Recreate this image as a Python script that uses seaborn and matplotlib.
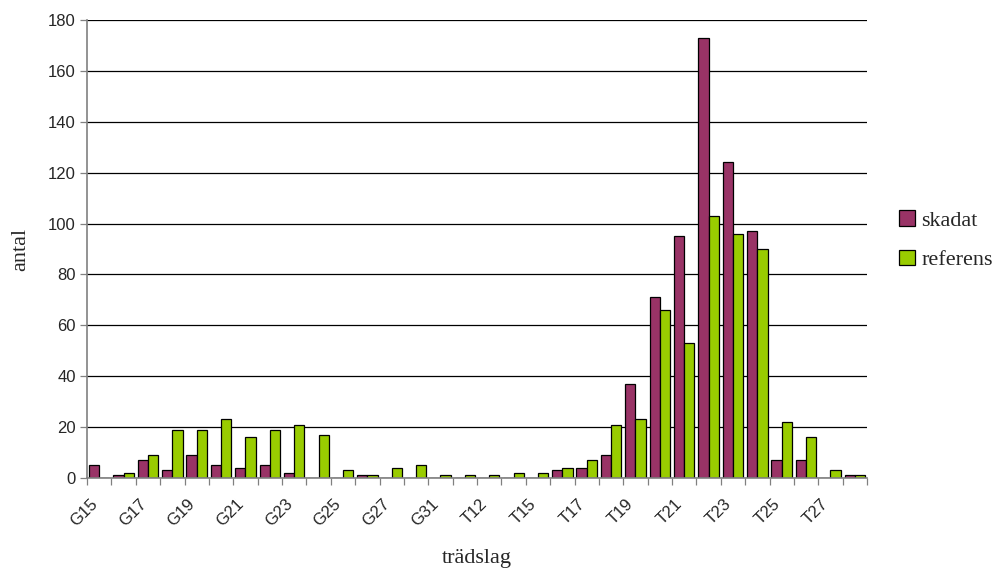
import matplotlib
matplotlib.use("Agg")
import matplotlib.pyplot as plt
from matplotlib.patches import Patch
import seaborn as sns
import pandas as pd
import numpy as np

# Tree species codes along the x axis
tradslag = ["G15", "G16", "G17", "G18", "G19", "G20", "G21", "G22", "G23", "G24",
            "G25", "G26", "G27", "G29", "G31", "T11", "T12", "T13", "T15", "T16",
            "T17", "T18", "T19", "T20", "T21", "T22", "T23", "T24", "T25", "T26",
            "T27", "T28"]

# Counts per species
skadat = [5, 1, 7, 3, 9, 5, 4, 5, 2, 0,
          0, 1, 0, 0, 0, 0, 0, 0, 0, 3,
          4, 9, 37, 71, 95, 173, 124, 97, 7, 7,
          0, 1]
referens = [0, 2, 9, 19, 19, 23, 16, 19, 21, 17,
            3, 1, 4, 5, 1, 1, 1, 2, 2, 4,
            7, 21, 23, 66, 53, 103, 96, 90, 22, 16,
            3, 1]

series_names = ["skadat", "referens"]
colors = {"skadat": "#993366", "referens": "#99CC00"}

df = pd.DataFrame({
    "trädslag": tradslag * 2,
    "antal": skadat + referens,
    "serie": ["skadat"] * len(tradslag) + ["referens"] * len(tradslag),
})

sns.set_style("white")
plt.rcParams["font.family"] = ["Liberation Sans", "DejaVu Sans"]

fig = plt.figure(figsize=(9.94, 5.69), dpi=100)
ax = fig.add_axes([87 / 994, 1 - 478 / 569, (867 - 87) / 994, (478 - 20) / 569])

sns.barplot(data=df, x="trädslag", y="antal", hue="serie", order=tradslag,
            hue_order=series_names, palette=colors, edgecolor="black",
            linewidth=0.9, width=0.84, saturation=1, ax=ax)

ax.set_xlim(-0.5, len(tradslag) - 0.5)
ax.set_ylim(0, 180)
ax.set_yticks(np.arange(0, 181, 20))
ax.tick_params(axis="y", labelsize=12, length=5, width=0.9, color="#808080",
               direction="out", left=True, pad=3)

# Label every other species (slanted labels end just left of the category
# centre); the visible tick marks sit on the category boundaries
major = list(range(0, len(tradslag), 2))
ax.set_xticks([i - 0.39 for i in major])
ax.set_xticklabels([tradslag[i] for i in major], rotation=45, ha="right",
                   rotation_mode="anchor", fontsize=12)
ax.set_xticks(np.arange(-0.5, len(tradslag), 1), minor=True)
ax.tick_params(axis="x", which="major", length=0, pad=13)
ax.tick_params(axis="x", which="minor", length=5, width=0.9, color="#808080",
               direction="out", bottom=True)

ax.yaxis.grid(True, color="black", linewidth=0.9)
ax.xaxis.grid(False)
ax.set_axisbelow(True)
for side in ["top", "right"]:
    ax.spines[side].set_visible(False)
for side in ["left", "bottom"]:
    ax.spines[side].set_color("#808080")
    ax.spines[side].set_linewidth(1.2)

serif = ["Liberation Serif", "DejaVu Serif"]
ax.set_ylabel("antal", family=serif, fontsize=16)
ax.set_xlabel("trädslag", family=serif, fontsize=16)
ax.yaxis.set_label_coords(-0.073, 0.5)
ax.xaxis.set_label_coords(0.5, -0.155)

if ax.get_legend() is not None:
    ax.get_legend().remove()
handles = [Patch(facecolor=colors[s], edgecolor="black", linewidth=0.9) for s in series_names]
fig.legend(handles, series_names, loc="center left", bbox_to_anchor=(0.889, 0.578),
           frameon=False, prop={"family": serif, "size": 16},
           handlelength=0.72, handleheight=0.72, handletextpad=0.27, labelspacing=0.85,
           borderpad=0.2)

fig.savefig("out.png", dpi=100)
